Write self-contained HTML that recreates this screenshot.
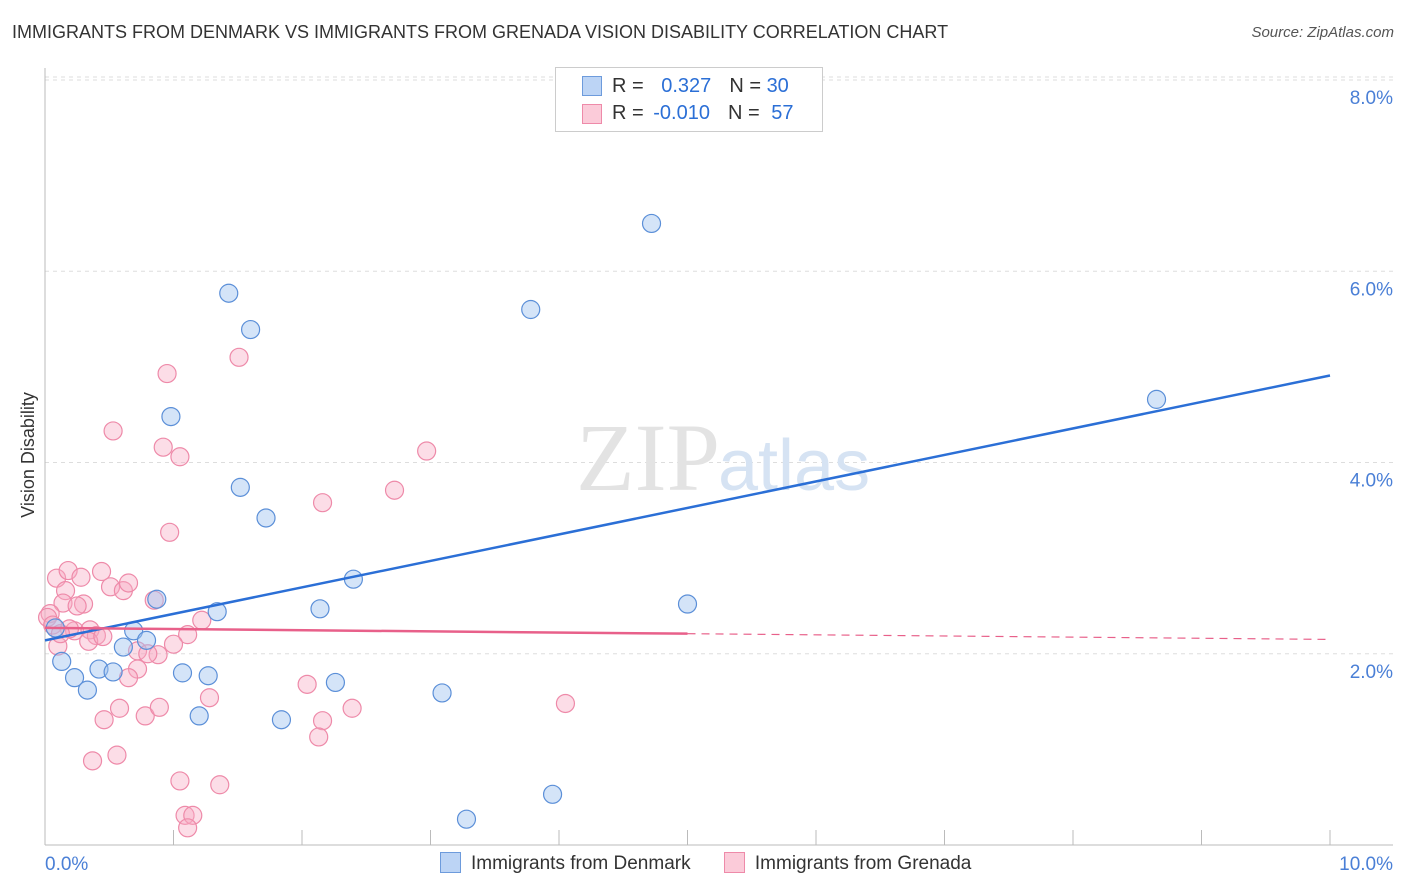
<!DOCTYPE html>
<html><head><meta charset="utf-8"><style>
body{margin:0;background:#fff;font-family:"Liberation Sans",sans-serif;}
#w{position:relative;width:1406px;height:892px;overflow:hidden}
</style></head><body><div id="w">
<div style="position:absolute;left:12px;top:22px;font-size:18px;color:#333">IMMIGRANTS FROM DENMARK VS IMMIGRANTS FROM GRENADA VISION DISABILITY CORRELATION CHART</div>
<div style="position:absolute;right:12px;top:24px;font-size:15px;color:#555;font-style:italic">Source: ZipAtlas.com</div>
<svg id="s" width="1406" height="892" style="position:absolute;left:0;top:0"></svg>
</div>
<script>
const xTicks=[0,1,2,3,4,5,6,7,8,9,10];
const yTicks=[2,4,6,8];
const yTickLabels=["2.0%","4.0%","6.0%","8.0%"];
const denmarkX=[1.43,1.60,0.98,1.52,1.72,4.72,3.78,8.65,2.40,2.14,1.34,0.87,0.69,0.79,0.61,0.08,0.13,0.23,0.42,0.53,0.33,1.07,1.27,1.20,1.84,2.26,3.09,5.00,3.95,3.28];
const denmarkY=[5.77,5.39,4.48,3.74,3.42,6.50,5.60,4.66,2.78,2.47,2.44,2.57,2.24,2.14,2.07,2.27,1.92,1.75,1.84,1.81,1.62,1.80,1.77,1.35,1.31,1.70,1.59,2.52,0.53,0.27];
const grenadaX=[1.51,0.95,0.53,0.92,1.05,2.97,2.16,2.72,0.97,0.09,0.18,0.28,0.44,0.16,0.51,0.61,0.65,0.14,0.30,0.85,0.04,1.22,0.23,0.35,0.40,1.11,0.10,0.34,0.72,0.88,0.72,0.65,1.28,2.04,0.46,0.58,0.78,0.89,2.16,2.39,2.13,4.05,0.37,0.56,1.05,1.36,1.09,1.15,1.11,0.19,0.02,0.06,0.25,0.12,0.45,0.80,1.00];
const grenadaY=[5.10,4.93,4.33,4.16,4.06,4.12,3.58,3.71,3.27,2.79,2.87,2.80,2.86,2.66,2.70,2.66,2.74,2.53,2.52,2.56,2.42,2.35,2.24,2.25,2.19,2.20,2.08,2.13,2.03,1.99,1.84,1.75,1.54,1.68,1.31,1.43,1.35,1.44,1.30,1.43,1.13,1.48,0.88,0.94,0.67,0.63,0.31,0.31,0.18,2.26,2.38,2.30,2.50,2.21,2.18,2.00,2.10];
const denmarkTrend=[2.14,4.91];
const grenadaTrend=[2.27,2.15];
const L=45,R=1330,B=845,T=80;
const xs=v=>L+(R-L)*v/10;
const ys=v=>B-(B-T)*v/8;
const s=document.getElementById('s');
const NS='http://www.w3.org/2000/svg';
function mk(t,a){const e=document.createElementNS(NS,t);for(const k in a)e.setAttribute(k,a[k]);s.appendChild(e);return e;}
yTicks.forEach((v,i)=>{
 const g=mk('line',{x1:L,x2:1393,y1:ys(v),y2:ys(v),stroke:'#ddd','stroke-dasharray':'4,4'});
 
 
 const t=mk('text',{x:1393,y:ys(v)+24,'text-anchor':'end','font-size':19,fill:'#4a7fd6'});
 t.textContent=yTickLabels[i];
 
 
});
const tg=mk('line',{x1:L,x2:1393,y1:ys(8)-3,y2:ys(8)-3,stroke:'#ddd','stroke-dasharray':'4,4'});


const ax=mk('line',{x1:L,x2:1393,y1:B,y2:B,stroke:'#bbb'});


const ay=mk('line',{x1:L,x2:L,y1:68,y2:B,stroke:'#bbb'});


xTicks.forEach(v=>{
 const l=mk('line',{x1:xs(v),x2:xs(v),y1:B,y2:B-15,stroke:'#bbb'});
 
 
});
const x0=mk('text',{x:45,y:870,'font-size':19,fill:'#4a7fd6'});x0.textContent='0.0%';


const x1=mk('text',{x:1393,y:870,'font-size':19,fill:'#4a7fd6','text-anchor':'end'});x1.textContent='10.0%';


const yt=mk('text',{x:34,y:455,'font-size':18,fill:'#333','text-anchor':'middle',transform:'rotate(-90 34 455)'});yt.textContent='Vision Disability';


const wm=mk('text',{x:720,y:490,'font-size':96,fill:'#e3e3e3','text-anchor':'end','font-family':'Liberation Serif'});wm.textContent='ZIP';


const wm2=mk('text',{x:718,y:490,'font-size':72,fill:'#d6e3f3'});wm2.textContent='atlas';


grenadaX.forEach((v,i)=>{
 const c=mk('circle',{cx:xs(v),cy:ys(grenadaY[i]),r:9,fill:'rgba(248,170,195,0.4)',stroke:'#ee8aa9','stroke-width':1.2});
 
 
});
denmarkX.forEach((v,i)=>{
 const c=mk('circle',{cx:xs(v),cy:ys(denmarkY[i]),r:9,fill:'rgba(160,195,240,0.45)',stroke:'#5b8fd8','stroke-width':1.2});
 
 
});
const bl=mk('line',{x1:xs(0),y1:ys(denmarkTrend[0]),x2:xs(10),y2:ys(denmarkTrend[1]),stroke:'#2b6fd6','stroke-width':2.5});


const gm=grenadaTrend[0]+(grenadaTrend[1]-grenadaTrend[0])*0.5;
const pl=mk('line',{x1:xs(0),y1:ys(grenadaTrend[0]),x2:xs(5),y2:ys(gm),stroke:'#e8608a','stroke-width':2.5});


const pd=mk('line',{x1:xs(5),y1:ys(gm),x2:xs(10),y2:ys(grenadaTrend[1]),stroke:'#e8608a','stroke-width':1.2,'stroke-dasharray':'8,6'});


</script>
<div style="position:absolute;left:555px;top:67px;width:266px;height:63px;border:1px solid #ccc;background:#fff;font-size:20px;color:#333">
 <div style="position:absolute;left:26px;top:8px;width:18px;height:18px;background:#bcd4f5;border:1px solid #6d9bdc"></div>
 <div style="position:absolute;left:56px;top:7px">R = <span style="color:#2b6fd6;margin-left:12px">0.327</span><span style="margin-left:18px">N = </span><span style="color:#2b6fd6">30</span></div>
 <div style="position:absolute;left:26px;top:36px;width:18px;height:18px;background:#fbcbd9;border:1px solid #ee8aa9"></div>
 <div style="position:absolute;left:56px;top:34px">R = <span style="color:#2b6fd6;margin-left:4px">-0.010</span><span style="margin-left:18px">N = </span><span style="color:#2b6fd6;margin-left:6px">57</span></div>
</div>
<div style="position:absolute;left:440px;top:852px;font-size:19px;color:#333;white-space:nowrap">
 <span><span style="display:inline-block;width:19px;height:19px;background:#bcd4f5;border:1px solid #6d9bdc;vertical-align:-4px;margin-right:10px"></span>Immigrants from Denmark</span>
 <span style="margin-left:28px"><span style="display:inline-block;width:19px;height:19px;background:#fbcbd9;border:1px solid #ee8aa9;vertical-align:-4px;margin-right:10px"></span>Immigrants from Grenada</span>
</div>
</body></html>
